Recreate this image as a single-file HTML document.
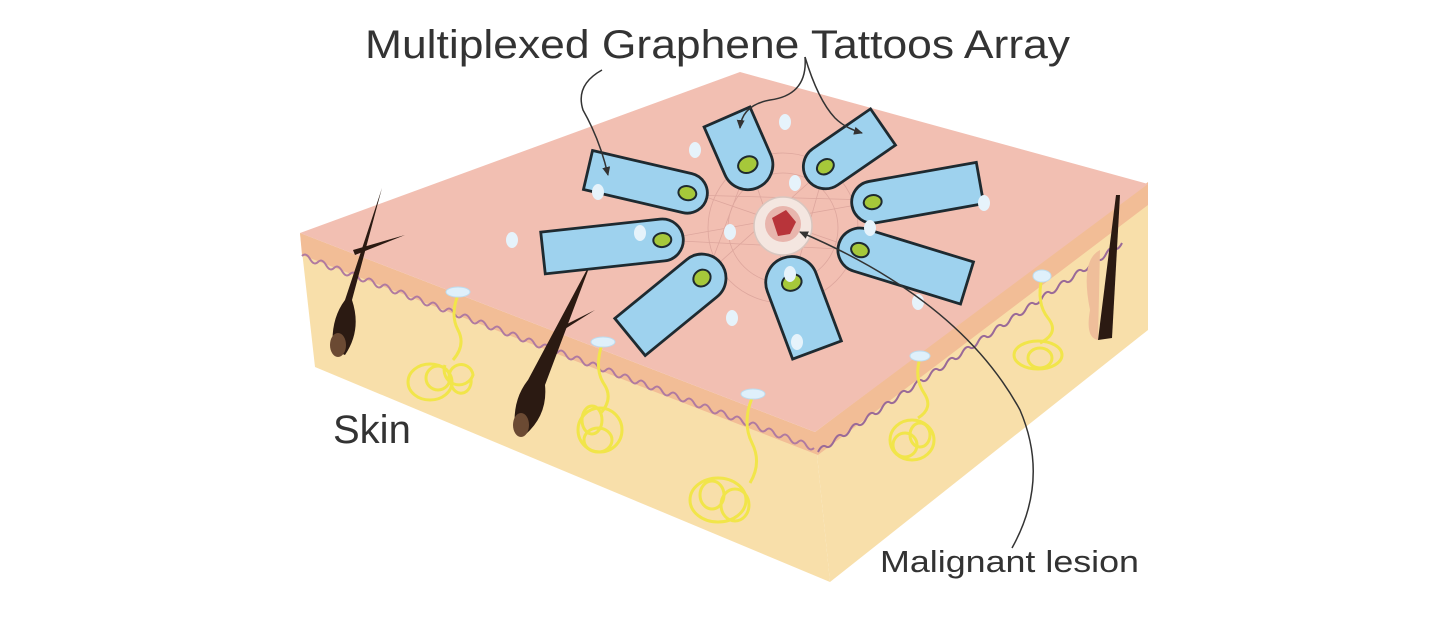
<!DOCTYPE html>
<html><head><meta charset="utf-8"><style>
html,body{margin:0;padding:0;background:#fff;}
svg{display:block;}
text{font-family:"Liberation Sans",Arial,sans-serif;fill:#333;}
</style></head><body>
<svg width="1448" height="622" viewBox="0 0 1448 622" xmlns="http://www.w3.org/2000/svg">
<defs>
<marker id="ah" markerWidth="10" markerHeight="10" refX="8" refY="5" orient="auto" markerUnits="userSpaceOnUse">
<path d="M0,1 L9,5 L0,9 Z" fill="#333"/></marker>
</defs>
<polygon points="300,233 815,435 830,582 315,367" fill="#f8dfaa"/>
<polygon points="815,435 1148,184 1148,330 830,582" fill="#f8dfaa"/>
<polygon points="300,233 815,432 1148,182 1148,205 818,455 302,255" fill="#f2bd96"/>
<polygon points="300,233 740,72 1148,184 815,432" fill="#f2bfb2"/>
<path d="M302,256 q4,-4 8,3 t8,3 t8,3 t8,3 t8,3 t8,3 t8,3 t8,3 t8,3 t8,3 t8,3 t8,3 t8,3 t8,3 t8,3 t8,3 t8,3 t8,3 t8,3 t8,3 t8,3 t8,3 t8,3 t8,3 t8,3 t8,3 t8,3 t8,3 t8,3 t8,3 t8,3 t8,3 t8,3 t8,3 t8,3 t8,3 t8,3 t8,3 t8,3 t8,3 t8,3 t8,3 t8,3 t8,3 t8,3 t8,3 t8,3 t8,3 t8,3 t8,3 t8,3 t8,3 t8,3 t8,3 t8,3 t8,3 t8,3 t8,3 t8,3 t8,3 t8,3 t8,3 t8,3 t8,3" fill="none" stroke="#b07aa0" stroke-width="2"/>
<path d="M818,452 q4,-8 8,-5.5 t8,-5.5 t8,-5.5 t8,-5.5 t8,-5.5 t8,-5.5 t8,-5.5 t8,-5.5 t8,-5.5 t8,-5.5 t8,-5.5 t8,-5.5 t8,-5.5 t8,-5.5 t8,-5.5 t8,-5.5 t8,-5.5 t8,-5.5 t8,-5.5 t8,-5.5 t8,-5.5 t8,-5.5 t8,-5.5 t8,-5.5 t8,-5.5 t8,-5.5 t8,-5.5 t8,-5.5 t8,-5.5 t8,-5.5 t8,-5.5 t8,-5.5 t8,-5.5 t8,-5.5 t8,-5.5 t8,-5.5 t8,-5.5 t8,-5.5" fill="none" stroke="#9a6a98" stroke-width="2"/>
<g fill="#2b1a12">
<path d="M333,350 Q330,320 345,300 L382,188 L352,300 Q362,330 345,355 Z"/>
<ellipse cx="338" cy="345" rx="8" ry="12" fill="#6b4a33"/>
<path d="M353,250 L405,235 L355,255 Z"/>
<path d="M515,430 Q512,400 528,380 L592,260 L545,385 Q548,415 525,435 Z"/>
<ellipse cx="521" cy="425" rx="8" ry="12" fill="#6b4a33"/>
<path d="M555,330 L595,310 L557,334 Z"/>
<path d="M1098,340 L1116,195 L1120,195 L1112,338 Z"/>
</g>
<path d="M1090,310 Q1080,260 1100,250 L1098,340 Q1085,338 1090,310 Z" fill="#efbe9a"/>
<g fill="none" stroke="#f1e54a" stroke-width="3">
<path d="M458,295 q-8,20 0,35 t-5,30 M445,365 a14,14 0 1,0 28,10 a12,12 0 1,0 -22,8 a10,12 0 1,0 20,-4"/>
<ellipse cx="430" cy="382" rx="22" ry="18"/><ellipse cx="438" cy="378" rx="12" ry="12"/>
<path d="M602,344 q-8,25 2,40 t-4,30"/>
<ellipse cx="600" cy="430" rx="22" ry="22"/><ellipse cx="598" cy="440" rx="14" ry="12"/><ellipse cx="592" cy="420" rx="10" ry="14"/>
<path d="M752,398 q-10,25 0,45 t-2,40"/>
<ellipse cx="718" cy="500" rx="28" ry="22"/><ellipse cx="735" cy="505" rx="14" ry="16"/><ellipse cx="712" cy="495" rx="12" ry="14"/>
<path d="M920,358 q-6,20 4,35 t-6,25"/>
<ellipse cx="912" cy="440" rx="22" ry="20"/><ellipse cx="905" cy="445" rx="12" ry="12"/><ellipse cx="920" cy="435" rx="10" ry="12"/>
<path d="M1042,278 q-6,25 6,40 t-8,25"/>
<ellipse cx="1038" cy="355" rx="24" ry="14"/><ellipse cx="1040" cy="358" rx="12" ry="10"/>
</g>
<g fill="#dff0fb" stroke="#bcdcef" stroke-width="1">
<ellipse cx="458" cy="292" rx="12" ry="5"/><ellipse cx="603" cy="342" rx="12" ry="5"/>
<ellipse cx="753" cy="394" rx="12" ry="5"/><ellipse cx="920" cy="356" rx="10" ry="5"/><ellipse cx="1042" cy="276" rx="9" ry="6"/>
</g>
<g fill="none" stroke="#d8a098" stroke-width="0.8" opacity="0.8">
<circle cx="783" cy="228" r="75"/><circle cx="783" cy="228" r="55"/>
<path d="M700,195 L860,250 M748,160 L790,285 M825,168 L700,280 M873,202 L660,240 M690,195 L870,200 M660,240 L860,250 M748,165 L705,280 M825,168 L792,285"/>
</g>
<circle cx="783" cy="226" r="29" fill="#f4e6e0" stroke="#d8c6bf" stroke-width="1.5"/>
<circle cx="783" cy="224" r="18" fill="#e8b5ad"/>
<path d="M772,218 L786,210 L796,222 L790,234 L778,236 Z" fill="#b8343a"/>
<g fill="#9ed2ee" stroke="#1e2a30" stroke-width="2.8">
<g transform="translate(588,170) rotate(13.1)"><path d="M0,-20 H102 A20,20 0 0 1 102,20 H0 Z"/><ellipse cx="102" cy="0" rx="9" ry="7" fill="#a6c83a" stroke-width="2"/></g>
<g transform="translate(727,117) rotate(66.4)"><path d="M0,-25 H52 A25,25 0 0 1 52,25 H0 Z"/><ellipse cx="52" cy="0" rx="8" ry="10" fill="#a6c83a" stroke-width="2"/></g>
<g transform="translate(883,127) rotate(145.4)"><path d="M0,-22 H70 A22,22 0 0 1 70,22 H0 Z"/><ellipse cx="70" cy="0" rx="9" ry="7" fill="#a6c83a" stroke-width="2"/></g>
<g transform="translate(980,183) rotate(169.9)"><path d="M0,-21 H109 A21,21 0 0 1 109,21 H0 Z"/><ellipse cx="109" cy="0" rx="9" ry="7" fill="#a6c83a" stroke-width="2"/></g>
<g transform="translate(967,283) rotate(197.1)"><path d="M0,-22 H112 A22,22 0 0 1 112,22 H0 Z"/><ellipse cx="112" cy="0" rx="9" ry="7" fill="#a6c83a" stroke-width="2"/></g>
<g transform="translate(817,350) rotate(249.5)"><path d="M0,-26 H72 A26,26 0 0 1 72,26 H0 Z"/><ellipse cx="72" cy="0" rx="8" ry="10" fill="#a6c83a" stroke-width="2"/></g>
<g transform="translate(630,337) rotate(-39.3)"><path d="M0,-24 H93 A24,24 0 0 1 93,24 H0 Z"/><ellipse cx="93" cy="0" rx="9" ry="8" fill="#a6c83a" stroke-width="2"/></g>
<g transform="translate(543,253) rotate(-6.2)"><path d="M0,-21 H120 A21,21 0 0 1 120,21 H0 Z"/><ellipse cx="120" cy="0" rx="9" ry="7" fill="#a6c83a" stroke-width="2"/></g>
</g>
<g fill="#e6f3fb">
<ellipse cx="785" cy="122" rx="6" ry="8"/><ellipse cx="695" cy="150" rx="6" ry="8"/><ellipse cx="598" cy="192" rx="6" ry="8"/>
<ellipse cx="795" cy="183" rx="6" ry="8"/><ellipse cx="984" cy="203" rx="6" ry="8"/><ellipse cx="730" cy="232" rx="6" ry="8"/>
<ellipse cx="640" cy="233" rx="6" ry="8"/><ellipse cx="512" cy="240" rx="6" ry="8"/><ellipse cx="870" cy="228" rx="6" ry="8"/>
<ellipse cx="790" cy="274" rx="6" ry="8"/><ellipse cx="918" cy="302" rx="6" ry="8"/><ellipse cx="732" cy="318" rx="6" ry="8"/>
<ellipse cx="797" cy="342" rx="6" ry="8"/>
</g>
<g fill="none" stroke="#333" stroke-width="1.5">
<path d="M602,70 Q575,85 583,110 Q600,140 608,175" marker-end="url(#ah)"/>
<path d="M805,57 Q808,95 770,100 Q742,105 740,128" marker-end="url(#ah)"/>
<path d="M805,57 Q818,100 835,118 Q845,128 862,133" marker-end="url(#ah)"/>
<path d="M1012,548 Q1050,480 1020,410 Q960,300 800,232" marker-end="url(#ah)"/>
</g>
<text x="365" y="58" font-size="40" textLength="705" lengthAdjust="spacingAndGlyphs">Multiplexed Graphene Tattoos Array</text>
<text x="333" y="443" font-size="40">Skin</text>
<text x="880" y="572" font-size="31" textLength="259" lengthAdjust="spacingAndGlyphs">Malignant lesion</text>
</svg>
</body></html>
